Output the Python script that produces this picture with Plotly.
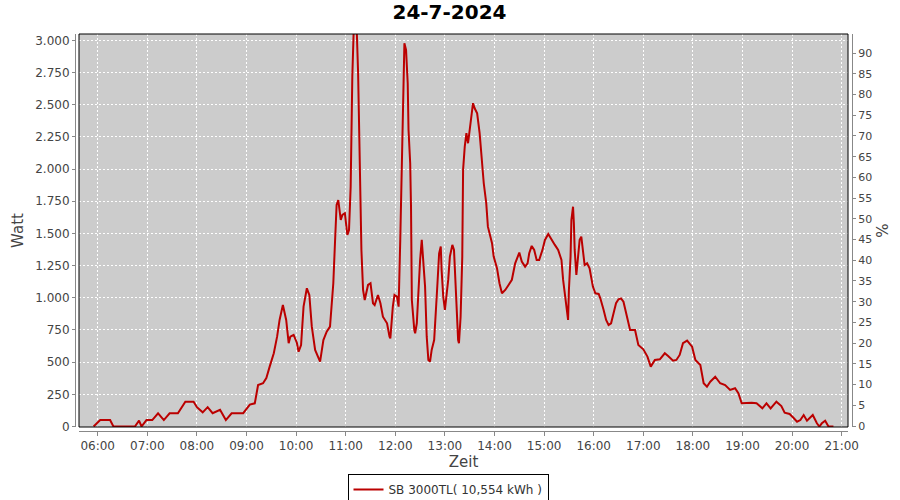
import plotly.graph_objects as go

DAY = "2024-07-24"
TITLE = "24-7-2024"
SERIES_NAME = "SB 3000TL( 10,554 kWh )"

times = [
    "05:55", "06:03", "06:15", "06:19", "06:45", "06:50", "06:53", "06:59", "07:06", "07:13",
    "07:20", "07:27", "07:37", "07:46", "07:56", "08:00", "08:07", "08:13", "08:19", "08:28",
    "08:35", "08:42", "08:56", "09:04", "09:10", "09:14", "09:20", "09:24", "09:28", "09:33",
    "09:37", "09:40", "09:44", "09:48", "09:51", "09:53", "09:57", "10:01", "10:03", "10:06",
    "10:09", "10:13", "10:16", "10:19", "10:23", "10:29", "10:33", "10:37", "10:41", "10:43",
    "10:45", "10:47", "10:49", "10:51", "10:54", "10:56", "10:59", "11:02", "11:04", "11:06",
    "11:07", "11:08", "11:10", "11:13", "11:15", "11:17", "11:19", "11:21", "11:23", "11:27",
    "11:30", "11:33", "11:35", "11:39", "11:42", "11:45", "11:50", "11:53", "11:54", "11:57",
    "11:59", "12:02", "12:04", "12:06", "12:08", "12:10", "12:11", "12:13", "12:15", "12:16",
    "12:18", "12:19", "12:20", "12:23", "12:24", "12:26", "12:28", "12:30", "12:32", "12:34",
    "12:36", "12:38", "12:40", "12:42", "12:44", "12:47", "12:49", "12:51", "12:53", "12:55",
    "12:56", "12:58", "13:00", "13:02", "13:04", "13:06", "13:09", "13:11", "13:13", "13:14",
    "13:16", "13:17", "13:19", "13:21", "13:22", "13:24", "13:26", "13:28", "13:30", "13:32",
    "13:34", "13:36", "13:39", "13:42", "13:44", "13:47", "13:50", "13:52", "13:57", "13:59",
    "14:03", "14:06", "14:09", "14:13", "14:17", "14:21", "14:25", "14:30", "14:33", "14:37",
    "14:40", "14:42", "14:45", "14:48", "14:51", "14:54", "14:58", "15:01", "15:05", "15:09",
    "15:13", "15:17", "15:21", "15:23", "15:25", "15:27", "15:29", "15:30", "15:32", "15:33",
    "15:35", "15:36", "15:37", "15:39", "15:41", "15:43", "15:45", "15:47", "15:49", "15:52",
    "15:55", "15:59", "16:02", "16:06", "16:08", "16:12", "16:15", "16:18", "16:21", "16:24",
    "16:27", "16:30", "16:33", "16:36", "16:40", "16:44", "16:50", "16:54", "17:00", "17:05",
    "17:09", "17:14", "17:20", "17:26", "17:30", "17:36", "17:40", "17:44", "17:48", "17:53",
    "17:59", "18:03", "18:09", "18:13", "18:17", "18:21", "18:27", "18:33", "18:39", "18:45",
    "18:51", "18:55", "18:59", "19:05", "19:11", "19:17", "19:24", "19:29", "19:34", "19:41",
    "19:47", "19:51", "19:57", "20:01", "20:06", "20:10", "20:14", "20:18", "20:25", "20:30",
    "20:33", "20:36", "20:40", "20:44", "20:50",
]

watts = [
    0, 50, 50, 0, 0, 45, 0, 50, 50, 103,
    50, 103, 103, 193, 193, 150, 110, 150, 103, 130,
    50, 103, 103, 170, 180, 322, 336, 377, 465, 569,
    698, 828, 944, 828, 647, 698, 711, 649, 581, 633,
    931, 1074, 1022, 776, 595, 504, 672, 737, 776, 931,
    1113, 1424, 1721, 1760, 1605, 1644, 1657, 1488, 1527, 1864,
    2434, 2719, 3150, 3150, 2745, 1890, 1372, 1061, 983, 1100,
    1113, 958, 944, 1022, 958, 853, 802, 698, 685, 931,
    1022, 1009, 931, 1450, 2100, 2771, 2978, 2926, 2667, 2304,
    2046, 1708, 983, 750, 724, 802, 1113, 1294, 1450, 1268,
    1087, 698, 517, 504, 595, 672, 853, 1113, 1346, 1398,
    1216, 1009, 906, 1009, 1139, 1320, 1411, 1372, 1061, 853,
    672, 647, 853, 1320, 1994, 2175, 2279, 2201, 2304, 2382,
    2512, 2473, 2434, 2279, 2097, 1890, 1735, 1553, 1424, 1320,
    1230, 1113, 1035, 1061, 1100, 1140, 1268, 1351, 1281, 1242,
    1268, 1346, 1403, 1372, 1294, 1294, 1372, 1450, 1496, 1450,
    1411, 1372, 1294, 1139, 1035, 906, 828, 1061, 1320, 1605,
    1708, 1579, 1372, 1177, 1320, 1450, 1475, 1346, 1255, 1268,
    1230, 1087, 1035, 1030, 996, 906, 828, 789, 802, 880,
    958, 989, 996, 970, 853, 750, 750, 633, 600, 543,
    465, 517, 522, 569, 548, 511, 517, 556, 647, 667,
    620, 517, 478, 336, 309, 348, 387, 336, 322, 284,
    297, 258, 180, 185, 185, 180, 141, 180, 141, 193,
    159, 107, 97, 72, 37, 50, 89, 45, 89, 25,
    0, 25, 45, 0, 0,
]

x_range = ["05:37:22", "21:07:37"]
watt_range = [-4, 3050]
percent_range = [-0.24, 94.6]

FONT = "DejaVu Sans"
TICK_COLOR = "#444444"
AXIS_COLOR = "#888888"
LINE_COLOR = "#bb0000"

xs = [f"{DAY} {t}" for t in times]

fig = go.Figure()
fig.add_trace(go.Scatter(
    x=xs, y=watts, mode="lines", name=SERIES_NAME,
    line=dict(color=LINE_COLOR, width=2),
))
fig.add_trace(go.Scatter(
    x=[xs[0]], y=[0], yaxis="y2", mode="markers",
    marker=dict(opacity=0), showlegend=False, hoverinfo="skip",
))

W, H = 900, 500
ml, mr, mt, mb = 75, 48, 34, 69
pw = W - ml - mr
ph = H - mt - mb
gap = 4

fig.update_layout(
    width=W, height=H,
    margin=dict(l=ml, r=mr, t=mt, b=mb, pad=0, autoexpand=False),
    paper_bgcolor="white",
    plot_bgcolor="#cccccc",
    separators=",.",
    font=dict(family=FONT, size=12, color=TICK_COLOR),
    title=dict(text=f"<b>{TITLE}</b>", x=449.5 / W, xref="container", xanchor="center",
               y=1 - 5 / H, yref="container", yanchor="top",
               font=dict(family=FONT, size=20, color="black")),
    xaxis=dict(
        type="date", automargin=False,
        range=[f"{DAY} {x_range[0]}", f"{DAY} {x_range[1]}"],
        domain=[gap / pw, 1 - gap / pw],
        anchor="free", position=0,
        tick0=f"{DAY} 06:00", dtick=3600000, tickformat="%H:%M",
        showgrid=True, gridcolor="white", gridwidth=1, griddash="2px,2px",
        showline=True, linecolor=AXIS_COLOR, linewidth=1,
        ticks="outside", ticklen=4, tickcolor=AXIS_COLOR,
        tickfont=dict(family=FONT, size=12, color=TICK_COLOR),
        title=dict(text="Zeit", font=dict(family=FONT, size=15, color=TICK_COLOR), standoff=4),
        zeroline=False,
    ),
    yaxis=dict(
        range=watt_range, automargin=False,
        domain=[gap / ph, 1],
        anchor="free", position=0,
        dtick=250, tick0=0, tickformat=",d",
        showgrid=True, gridcolor="white", gridwidth=1, griddash="2px,2px",
        showline=True, linecolor=AXIS_COLOR, linewidth=1,
        ticks="outside", ticklen=3, tickcolor=AXIS_COLOR,
        tickfont=dict(family=FONT, size=12, color=TICK_COLOR),
        title=dict(text="Watt", font=dict(family=FONT, size=15, color=TICK_COLOR), standoff=6),
        zeroline=False,
    ),
    yaxis2=dict(
        range=percent_range, automargin=False,
        overlaying="y", side="right",
        anchor="free", position=1,
        dtick=5, tick0=0,
        showgrid=False,
        showline=True, linecolor=AXIS_COLOR, linewidth=1,
        ticks="outside", ticklen=3, tickcolor=AXIS_COLOR,
        tickfont=dict(family=FONT, size=11, color=TICK_COLOR),
        title=dict(text="%", font=dict(family=FONT, size=15, color=TICK_COLOR), standoff=6),
        zeroline=False,
    ),
    showlegend=True,
    legend=dict(
        orientation="h", x=(448 - ml) / pw, xanchor="center",
        y=(mt + ph - 474) / ph, yanchor="top",
        bordercolor="black", borderwidth=1, bgcolor="white",
        font=dict(family=FONT, size=12, color="#333333"),
        itemwidth=30,
    ),
    shapes=[dict(type="rect", xref="x domain", yref="y domain", x0=0, x1=1, y0=0, y1=1,
                 line=dict(color="black", width=1), layer="above")],
)

fig.write_html("out.html", config={"displayModeBar": False},
               post_script="document.body.style.margin='0';")
